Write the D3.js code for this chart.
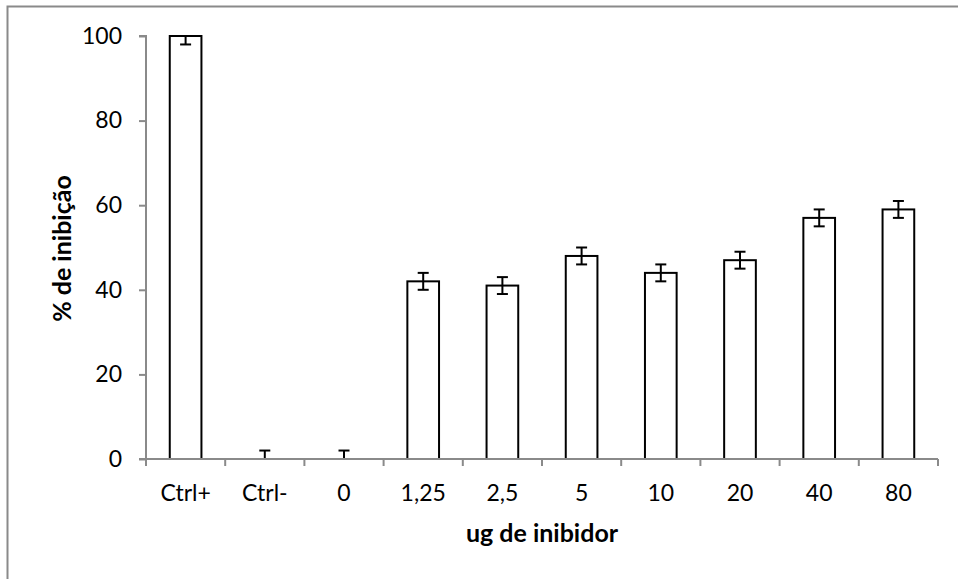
<!DOCTYPE html>
<html>
<head>
<meta charset="utf-8">
<script src="https://cdn.jsdelivr.net/npm/d3@7"></script>
<style>
  html, body { margin: 0; padding: 0; background: #fff; }
  svg { display: block; }
  text { font-family: Lato, "Open Sans", sans-serif; fill: #000; }
</style>
</head>
<body>
<svg id="chart" width="958" height="579"></svg>
<script>
// Inhibition (%) per inhibitor dose, with symmetric error
const categories = ["Ctrl+", "Ctrl-", "0", "1,25", "2,5", "5", "10", "20", "40", "80"];
const values = [100, 0, 0, 42, 41, 48, 44, 47, 57, 59];
const errors = [2, 2, 2, 2, 2, 2, 2, 2, 2, 2];
const yTicks = [0, 20, 40, 60, 80, 100];

const svg = d3.select("#chart");
const plot = { left: 146, right: 938, top: 36, bottom: 459 };

// Outer chart frame (runs off the right and bottom edges)
svg.append("rect")
  .attr("x", 7.5).attr("y", 6.5)
  .attr("width", 1000).attr("height", 1000)
  .attr("fill", "none").attr("stroke", "#8a8a8a").attr("stroke-width", 2);

const x = d3.scaleBand()
  .domain(categories)
  .range([plot.left, plot.right])
  .paddingInner(0.6).paddingOuter(0.3);

// band grid for tick marks between categories
const xGrid = d3.scaleBand().domain(categories).range([plot.left, plot.right]);

const y = d3.scaleLinear().domain([0, 100]).range([plot.bottom, plot.top]);

svg.append("defs").append("clipPath").attr("id", "plotClip")
  .append("rect")
  .attr("x", plot.left).attr("y", plot.top)
  .attr("width", plot.right - plot.left).attr("height", plot.bottom - plot.top);

// Bars
svg.append("g").selectAll("rect")
  .data(categories)
  .join("rect")
  .attr("x", d => x(d))
  .attr("y", (d, i) => y(values[i]))
  .attr("width", x.bandwidth())
  .attr("height", (d, i) => y(0) - y(values[i]))
  .attr("fill", "#fff")
  .attr("stroke", "#000")
  .attr("stroke-width", 2);

// Error bars (clipped to the plot area)
const eb = svg.append("g").attr("clip-path", "url(#plotClip)")
  .selectAll("g").data(categories).join("g")
  .attr("stroke", "#000").attr("stroke-width", 2);
const cx = d => x(d) + x.bandwidth() / 2;
const capHalf = 5.5;
eb.append("line")
  .attr("x1", cx).attr("x2", cx)
  .attr("y1", (d, i) => y(values[i] + errors[i]))
  .attr("y2", (d, i) => y(values[i] - errors[i]));
eb.append("line")
  .attr("x1", d => cx(d) - capHalf).attr("x2", d => cx(d) + capHalf)
  .attr("y1", (d, i) => y(values[i] + errors[i]))
  .attr("y2", (d, i) => y(values[i] + errors[i]));
eb.append("line")
  .attr("x1", d => cx(d) - capHalf).attr("x2", d => cx(d) + capHalf)
  .attr("y1", (d, i) => y(values[i] - errors[i]))
  .attr("y2", (d, i) => y(values[i] - errors[i]));

const axisColor = "#8a8a8a";

// Y axis
const yAxis = svg.append("g")
  .attr("transform", `translate(${plot.left},0)`)
  .call(d3.axisLeft(y).tickValues(yTicks).tickSize(7).tickPadding(17).tickFormat(d3.format("d")));
yAxis.select(".domain").attr("stroke", axisColor).attr("stroke-width", 2)
  .attr("d", `M-7,${plot.top}H0V${plot.bottom}`);
yAxis.selectAll(".tick line").attr("stroke", axisColor).attr("stroke-width", 2);
yAxis.selectAll(".tick text").attr("font-size", 23).attr("font-family", "Lato, sans-serif").attr("fill", "#000");

// X axis
const xAxis = svg.append("g")
  .attr("transform", `translate(0,${plot.bottom})`)
  .call(d3.axisBottom(x).tickSize(0).tickPadding(26));
xAxis.select(".domain").attr("stroke", axisColor).attr("stroke-width", 2)
  .attr("d", `M${plot.left - 7},0H${plot.right}`);
xAxis.selectAll(".tick text").attr("font-size", 23).attr("font-family", "Lato, sans-serif").attr("fill", "#000");
// category separator ticks
const sepPositions = categories.map(c => xGrid(c)).concat([plot.right]);
xAxis.append("g").selectAll("line").data(sepPositions).join("line")
  .attr("x1", d => d).attr("x2", d => d)
  .attr("y1", 0).attr("y2", 7)
  .attr("stroke", axisColor).attr("stroke-width", 2);

// Axis titles
svg.append("text")
  .attr("x", (plot.left + plot.right) / 2).attr("y", 542)
  .attr("text-anchor", "middle")
  .attr("font-size", 25).attr("font-weight", "bold")
  .text("ug de inibidor");

svg.append("text")
  .attr("transform", `translate(71,${(plot.top + plot.bottom) / 2 + 1}) rotate(-90)`)
  .attr("text-anchor", "middle")
  .attr("font-size", 25).attr("font-weight", "bold")
  .text("% de inibição");
</script>
</body>
</html>
